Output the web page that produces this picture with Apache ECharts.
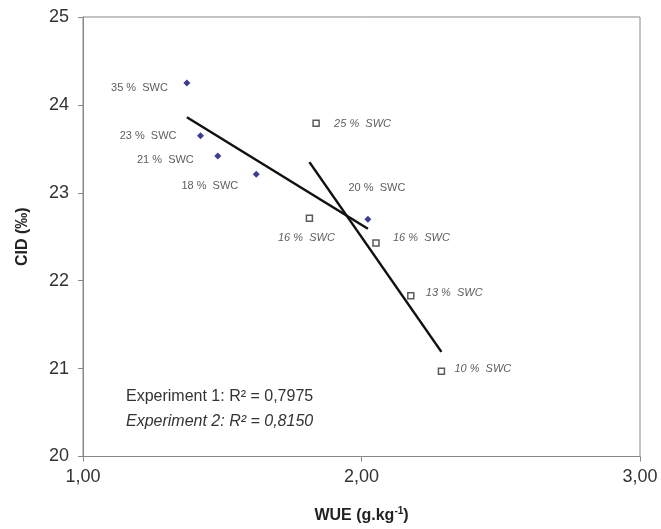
<!DOCTYPE html>
<html>
<head>
<meta charset="utf-8">
<script src="https://cdn.jsdelivr.net/npm/echarts@6/dist/echarts.min.js"></script>
<style>
  html, body { margin: 0; padding: 0; background: #fff; }
  #chart { width: 661px; height: 529px; }
</style>
</head>
<body>
<div id="chart"></div>
<script>
// Experiment 1 (filled diamonds)
const exp1Labels = ['35 %  SWC', '23 %  SWC', '21 %  SWC', '18 %  SWC', '20 %  SWC']
const exp1WUE = [1.373, 1.422, 1.484, 1.622, 2.023]
const exp1CID = [24.25, 23.65, 23.42, 23.21, 22.70]

// Experiment 2 (open squares)
const exp2Labels = ['25 %  SWC', '16 %  SWC', '16 %  SWC', '13 %  SWC', '10 %  SWC']
const exp2WUE = [1.837, 1.813, 2.052, 2.177, 2.287]
const exp2CID = [23.79, 22.71, 22.43, 21.83, 20.97]

const xTicks = [1, 2, 3]
const yTicks = [20, 21, 22, 23, 24, 25]

// where each point's label sits, relative to the point
const exp1LabelPlace = [
  { align: 'right', offset: [-19, 5] },
  { align: 'right', offset: [-24, 0] },
  { align: 'right', offset: [-24, 4] },
  { align: 'right', offset: [-18, 12] },
  { align: 'center', offset: [9, -31] },
]
const exp2LabelPlace = [
  { align: 'left', offset: [18, 1] },
  { align: 'center', offset: [-3, 20] },
  { align: 'left', offset: [17, -5] },
  { align: 'left', offset: [15, -3] },
  { align: 'left', offset: [13, -2] },
]

const FONT = "'Liberation Sans', Arial, sans-serif"

// least squares trend line drawn over the range of the data
function trend(xs, ys) {
  const n = xs.length
  const mx = xs.reduce((a, b) => a + b, 0) / n
  const my = ys.reduce((a, b) => a + b, 0) / n
  let sxy = 0, sxx = 0
  for (let i = 0; i < n; i++) {
    sxy += (xs[i] - mx) * (ys[i] - my)
    sxx += (xs[i] - mx) * (xs[i] - mx)
  }
  const b = sxy / sxx
  const a = my - b * mx
  const x0 = Math.min(...xs), x1 = Math.max(...xs)
  return [[x0, a + b * x0], [x1, a + b * x1]]
}

function points(xs, ys, names, place, italic) {
  return xs.map((x, i) => ({
    value: [x, ys[i]],
    name: names[i],
    label: {
      show: true,
      position: 'inside',
      align: place[i].align,
      verticalAlign: 'middle',
      offset: place[i].offset,
      formatter: names[i],
      color: '#333',
      fontSize: 11,
      fontFamily: FONT,
      fontStyle: italic ? 'italic' : 'normal',
    },
  }))
}

const chart = echarts.init(document.getElementById('chart'))

chart.setOption({
  backgroundColor: '#fff',
  animation: false,
  grid: {
    left: 83, right: 21, top: 17, bottom: 67,
    show: true, borderColor: '#888', borderWidth: 1,
  },
  xAxis: {
    type: 'value',
    min: xTicks[0], max: xTicks[xTicks.length - 1], interval: 1,
    name: 'WUE (g.kg{sup|-1})',
    nameLocation: 'middle',
    nameGap: 50,
    nameTextStyle: {
      fontFamily: FONT, fontSize: 16, fontWeight: 'bold', color: '#222',
      rich: { sup: { fontFamily: FONT, fontSize: 10, fontWeight: 'bold', color: '#222', padding: [0, 0, 9, 0] } },
    },
    axisLine: { lineStyle: { color: '#888' } },
    axisTick: { show: true, length: 5, lineStyle: { color: '#888' } },
    splitLine: { show: false },
    axisLabel: {
      fontFamily: FONT, fontSize: 18, color: '#333', margin: 12,
      formatter: v => v.toFixed(2).replace('.', ','),
    },
  },
  yAxis: {
    type: 'value',
    min: yTicks[0], max: yTicks[yTicks.length - 1], interval: 1,
    name: 'CID (‰)',
    nameLocation: 'middle',
    nameRotate: 90,
    nameGap: 52,
    nameTextStyle: { fontFamily: FONT, fontSize: 16, fontWeight: 'bold', color: '#222' },
    axisLine: { show: true, lineStyle: { color: '#888' } },
    axisTick: { show: true, length: 5, lineStyle: { color: '#888' } },
    splitLine: { show: false },
    axisLabel: { fontFamily: FONT, fontSize: 18, color: '#333', margin: 14 },
  },
  graphic: [
    {
      type: 'text', left: 126, top: 389, silent: true,
      style: { text: 'Experiment 1: R² = 0,7975', font: '16px ' + FONT, fill: '#333' },
    },
    {
      type: 'text', left: 126, top: 414, silent: true,
      style: { text: 'Experiment 2: R² = 0,8150', font: 'italic 16px ' + FONT, fill: '#333' },
    },
  ],
  series: [
    {
      name: 'Experiment 1 trend',
      type: 'line',
      data: trend(exp1WUE, exp1CID),
      symbol: 'none',
      lineStyle: { color: '#111', width: 2.5 },
      z: 1,
    },
    {
      name: 'Experiment 2 trend',
      type: 'line',
      data: trend(exp2WUE, exp2CID),
      symbol: 'none',
      lineStyle: { color: '#111', width: 2.5 },
      z: 1,
    },
    {
      name: 'Experiment 1',
      type: 'scatter',
      symbol: 'diamond',
      symbolSize: 7,
      itemStyle: { color: '#0b0b80' },
      data: points(exp1WUE, exp1CID, exp1Labels, exp1LabelPlace, false),
      z: 3,
    },
    {
      name: 'Experiment 2',
      type: 'scatter',
      symbol: 'rect',
      symbolSize: 6,
      itemStyle: { color: '#fff', borderColor: '#333', borderWidth: 1.5 },
      data: points(exp2WUE, exp2CID, exp2Labels, exp2LabelPlace, true),
      z: 3,
    },
  ],
})
</script>
</body>
</html>
